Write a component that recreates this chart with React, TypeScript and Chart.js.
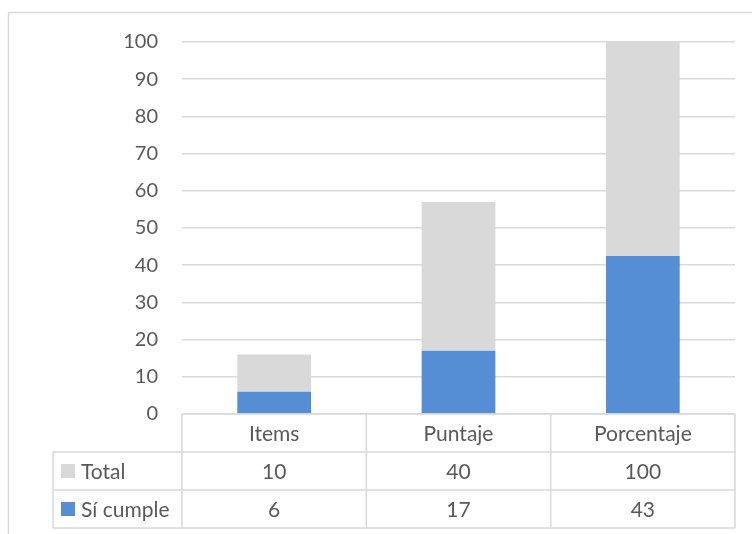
import React, { useEffect, useRef } from "react";
import { Chart, registerables } from "chart.js";

Chart.register(...registerables);

const categories = ["Items", "Puntaje", "Porcentaje"];
const siCumple = [6, 17, 42.5];
const total = [10, 40, 100];
const seriesNames = ["Total", "Sí cumple"];
const yMin = 0;
const yMax = 100;
const yStep = 10;

const BLUE = "#558ED5";
const GRAY = "#D9D9D9";
const LINE = "#D9D9D9";
const TEXT = "#595959";
const FONT = "Lato, 'Open Sans', sans-serif";

const tablePlugin = {
  id: "dataTable",
  beforeDraw(chart: any) {
    const ctx = chart.ctx;
    ctx.save();
    ctx.strokeStyle = LINE;
    ctx.lineWidth = 1.5;
    ctx.strokeRect(8.5, 12.5, 800, 600);
    ctx.restore();
  },
  afterDraw(chart: any) {
    const ctx = chart.ctx;
    const area = chart.chartArea;
    const x = chart.scales.x;
    const n = categories.length;
    const cw = (area.right - area.left) / n;
    const rowH = 38;
    const top = area.bottom;
    const legLeft = 53;
    ctx.save();
    ctx.strokeStyle = LINE;
    ctx.lineWidth = 1.5;
    ctx.beginPath();
    ctx.moveTo(area.left, top);
    ctx.lineTo(area.right, top);
    for (let r = 1; r <= 3; r++) {
      ctx.moveTo(legLeft, top + rowH * r);
      ctx.lineTo(area.right, top + rowH * r);
    }
    for (let c = 0; c <= n; c++) {
      const xx = area.left + cw * c;
      ctx.moveTo(xx, top);
      ctx.lineTo(xx, top + rowH * 3);
    }
    ctx.moveTo(legLeft, top + rowH);
    ctx.lineTo(legLeft, top + rowH * 3);
    ctx.stroke();

    ctx.fillStyle = TEXT;
    ctx.font = `21px ${FONT}`;
    ctx.textAlign = "center";
    ctx.textBaseline = "middle";
    for (let i = 0; i < n; i++) {
      const cx = x.getPixelForValue(i);
      ctx.fillText(categories[i], cx, top + rowH * 0.5 + 1);
      ctx.fillText(String(Math.round(total[i])), cx, top + rowH * 1.5 + 1);
      ctx.fillText(String(Math.round(siCumple[i])), cx, top + rowH * 2.5 + 1);
    }
    const keyColors = [GRAY, BLUE];
    ctx.textAlign = "left";
    for (let r = 0; r < 2; r++) {
      const cy = top + rowH * (1.5 + r);
      ctx.fillStyle = keyColors[r];
      ctx.fillRect(61, cy - 7, 14, 14);
      ctx.fillStyle = TEXT;
      ctx.fillText(seriesNames[r], 81, cy + 1);
    }
    ctx.restore();
  },
};

export default function App() {
  const ref = useRef<HTMLCanvasElement>(null);
  useEffect(() => {
    document.body.style.margin = "0";
    const chart = new Chart(ref.current!, {
      type: "bar",
      data: {
        labels: categories,
        datasets: [
          {
            label: "Sí cumple",
            data: siCumple,
            backgroundColor: BLUE,
            categoryPercentage: 1,
            barPercentage: 0.4,
          },
          {
            label: "Total",
            data: total,
            backgroundColor: GRAY,
            categoryPercentage: 1,
            barPercentage: 0.4,
          },
        ],
      },
      options: {
        responsive: false,
        animation: false,
        devicePixelRatio: 1,
        layout: { padding: { top: 42, bottom: 120, right: 17, left: 0 } },
        plugins: { legend: { display: false }, tooltip: { enabled: false } },
        scales: {
          x: { display: false, stacked: true },
          y: {
            stacked: true,
            min: yMin,
            max: yMax,
            ticks: {
              stepSize: yStep,
              color: TEXT,
              font: { family: FONT, size: 20 },
              padding: 24,
            },
            grid: { color: LINE, lineWidth: 1.5, drawTicks: false },
            border: { display: false },
            afterFit(scale: any) {
              scale.width = 182;
            },
          },
        },
      },
      plugins: [tablePlugin],
    });
    return () => chart.destroy();
  }, []);
  return <canvas ref={ref} width={752} height={534} style={{ display: "block" }} />;
}
